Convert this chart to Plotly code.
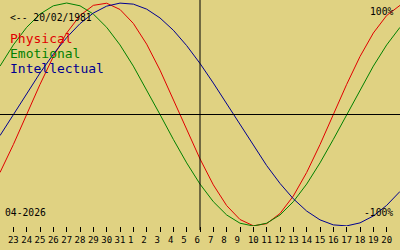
import plotly.graph_objects as go

# Day labels for each sampled day (index 0 = 22 March ... index 30 = 21 April)
day_labels = ["22", "23", "24", "25", "26", "27", "28", "29", "30", "31",
              "1", "2", "3", "4", "5", "6", "7", "8", "9", "10",
              "11", "12", "13", "14", "15", "16", "17", "18", "19", "20", "21"]

physical = [-0.520, -0.270, 0.000, 0.270, 0.520, 0.731, 0.888, 0.979, 0.998, 0.942,
            0.817, 0.631, 0.398, 0.136, -0.136, -0.398, -0.631, -0.817, -0.942, -0.998,
            -0.979, -0.888, -0.731, -0.520, -0.270, 0.000, 0.270, 0.520, 0.731, 0.888, 0.979]

emotional = [0.434, 0.624, 0.782, 0.901, 0.975, 1.000, 0.975, 0.901, 0.782, 0.624,
             0.434, 0.223, 0.000, -0.223, -0.434, -0.624, -0.782, -0.901, -0.975, -1.000,
             -0.975, -0.901, -0.782, -0.624, -0.434, -0.223, 0.000, 0.223, 0.434, 0.624, 0.782]

intellectual = [-0.189, 0.000, 0.189, 0.372, 0.541, 0.690, 0.815, 0.910, 0.972, 0.999,
                0.990, 0.945, 0.866, 0.756, 0.618, 0.458, 0.282, 0.095, -0.095, -0.282,
                -0.458, -0.618, -0.756, -0.866, -0.945, -0.990, -0.999, -0.972, -0.910, -0.815, -0.690]

series_names = ["Physical", "Emotional", "Intellectual"]
series_colors = ["#E00000", "#008000", "#000090"]
today_index = 15
birth_label = "<-- 20/02/1981"
month_label = "04-2026"
top_label = "100%"
bottom_label = "-100%"

BG = "#E0D282"
MONO = "DejaVu Sans Mono"
W, H, B = 400, 250, 24
PH = H - B

x = list(range(len(day_labels)))

fig = go.Figure()
for name, vals, col in zip(series_names, [physical, emotional, intellectual], series_colors):
    fig.add_trace(go.Scatter(x=x, y=vals, mode="lines", name=name,
                             line=dict(color=col, width=1), hoverinfo="skip"))

def py(p):
    return 1 - p / PH

shapes = [
    dict(type="line", xref="paper", yref="y", x0=0, x1=1, y0=0, y1=0,
         line=dict(color="black", width=1)),
    dict(type="line", xref="x", yref="paper", x0=today_index, x1=today_index, y0=-4 / PH, y1=1,
         line=dict(color="black", width=1)),
]

ann = []
ann.append(dict(text=birth_label, x=8 / W, y=py(17.5), xref="paper", yref="paper",
                xanchor="left", yanchor="middle", showarrow=False,
                font=dict(family=MONO, size=9.7, color="black")))
for i, (name, col) in enumerate(zip(series_names, series_colors)):
    ann.append(dict(text=name, x=8 / W, y=py(38 + 15 * i), xref="paper", yref="paper",
                    xanchor="left", yanchor="middle", showarrow=False,
                    font=dict(family=MONO, size=13, color=col)))
ann.append(dict(text=month_label, x=3 / W, y=py(212), xref="paper", yref="paper",
                xanchor="left", yanchor="middle", showarrow=False,
                font=dict(family=MONO, size=9.7, color="black")))
ann.append(dict(text=top_label, x=395 / W, y=py(12), xref="paper", yref="paper",
                xanchor="right", yanchor="middle", showarrow=False,
                font=dict(family=MONO, size=9.7, color="black")))
ann.append(dict(text=bottom_label, x=395 / W, y=py(212), xref="paper", yref="paper",
                xanchor="right", yanchor="middle", showarrow=False,
                font=dict(family=MONO, size=9.7, color="black")))

# single-digit labels sit in a two-character field (left-shifted)
tick_text = [d if len(d) == 2 else (d + "\u00a0") for d in day_labels[1:30]]

fig.update_layout(
    width=W, height=H, margin=dict(l=0, r=0, t=0, b=B),
    paper_bgcolor=BG, plot_bgcolor=BG, showlegend=False,
    shapes=shapes, annotations=ann,
    xaxis=dict(range=[0, 30], tickvals=x[1:30], ticktext=tick_text,
               tickangle=0, ticks="outside", ticklen=5, tickwidth=1, tickcolor="black",
               showgrid=False, zeroline=False, showline=False,
               tickfont=dict(family=MONO, size=9, color="black"), fixedrange=True),
    yaxis=dict(range=[-1.0, 1.027], visible=False, fixedrange=True),
)

fig.write_html("out.html")
